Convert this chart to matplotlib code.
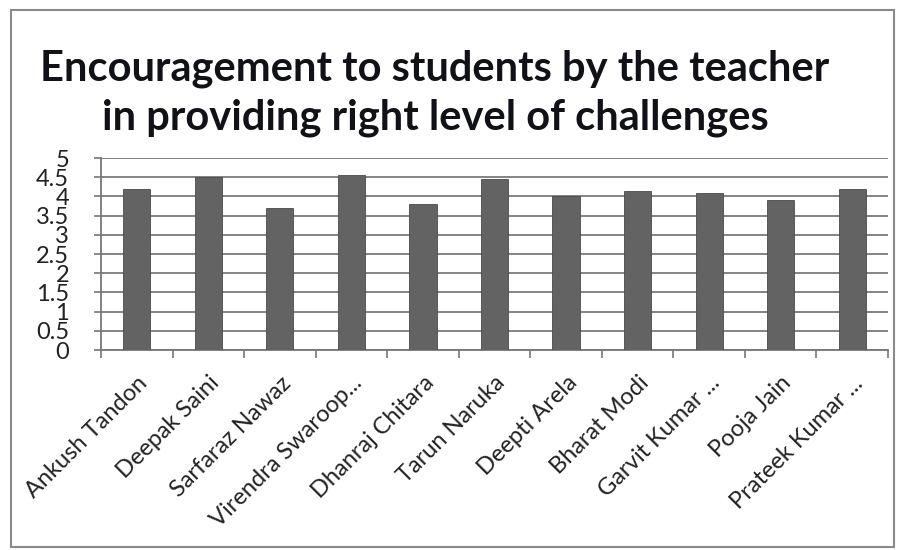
import numpy as np
import matplotlib
matplotlib.use("Agg")
import matplotlib.pyplot as plt
from matplotlib.patches import Rectangle
from matplotlib.transforms import ScaledTranslation

plt.rcParams['font.family'] = ['Lato', 'DejaVu Sans']

students = ["Ankush Tandon", "Deepak Saini", "Sarfaraz Nawaz", "Virendra Swaroop...",
            "Dhanraj Chitara", "Tarun Naruka", "Deepti Arela", "Bharat Modi",
            "Garvit Kumar ...", "Pooja Jain", "Prateek Kumar ..."]
scores = [4.2, 4.5, 3.7, 4.55, 3.8, 4.45, 4.0, 4.15, 4.1, 3.9, 4.2]
yticks = [0, 0.5, 1, 1.5, 2, 2.5, 3, 3.5, 4, 4.5, 5]
title = "Encouragement to students by the teacher\nin providing right level of challenges"

fig = plt.figure(figsize=(8.97, 5.5), dpi=100)
ax = fig.add_axes([0.1126, 0.3636, 0.8774, 0.3491])

x = np.arange(len(students))
ax.bar(x, scores, width=0.38, color="#636363", edgecolor="#4a4a4a", linewidth=0.6, zorder=3)

ax.set_xlim(-0.5, len(students) - 0.5)
ax.set_ylim(0, 5)
ax.set_yticks(yticks)
ax.set_yticklabels([f"{v:g}" for v in yticks], fontsize=17, color="#222222")
ax.yaxis.grid(True, color="#7a7a7a", linewidth=1.3, zorder=0)

# category ticks sit between the bars, labels at the bar centres
ax.set_xticks(np.arange(-0.5, len(students)), minor=False)
ax.set_xticklabels([])
ax.set_xticks(x, minor=True)
labels = ax.set_xticklabels(students, minor=True, rotation=45, ha="right",
                            rotation_mode="anchor", fontsize=17, color="#222222")
nudge = ScaledTranslation(8 / 100, 0, fig.dpi_scale_trans)
for lab in labels:
    lab.set_transform(lab.get_transform() + nudge)
ax.tick_params(axis="x", which="major", length=6, color="#777777", width=1.2)
ax.tick_params(axis="x", which="minor", length=0, pad=16)
ax.tick_params(axis="y", length=5, color="#777777", width=1.2, pad=18)

for side in ("top", "right"):
    ax.spines[side].set_visible(False)
for side in ("left", "bottom"):
    ax.spines[side].set_color("#777777")
    ax.spines[side].set_linewidth(1.3)

fig.text(0.485, 0.83, title, ha="center", va="center", fontsize=30,
         fontweight="bold", color="#111118", linespacing=1.35)

fig.patches.append(Rectangle((0.012, 0.006), 0.985, 0.975, transform=fig.transFigure,
                             fill=False, edgecolor="#8a8a8a", linewidth=1.5))

fig.savefig("out.png", dpi=100)
